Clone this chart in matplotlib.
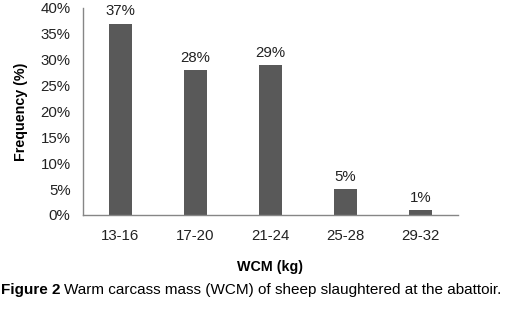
import matplotlib.pyplot as plt

plt.rcParams['font.family'] = ['Liberation Sans', 'DejaVu Sans']

categories = ['13-16', '17-20', '21-24', '25-28', '29-32']
frequency = [37, 28, 29, 5, 1]

fig = plt.figure(figsize=(5.05, 3.09), dpi=100)
ax = fig.add_axes([83 / 505, 1 - 215 / 309, 375 / 505, 207 / 309])

x = range(len(categories))
bars = ax.bar(x, frequency, width=0.31, color='#595959')
for xi, v in zip(x, frequency):
    ax.text(xi, v + 1.0, f'{v}%', ha='center', va='bottom', fontsize=10.8, color='#222222')

ax.set_xlim(-0.5, len(categories) - 0.5)
ax.set_ylim(0, 40)
ax.set_yticks(range(0, 41, 5))
ax.set_yticklabels([f'{t}%' for t in range(0, 41, 5)])
ax.set_xticks(list(x))
ax.set_xticklabels(categories)
ax.tick_params(axis='both', length=0, labelsize=10.8, colors='#222222')
ax.tick_params(axis='y', pad=9)
ax.tick_params(axis='x', pad=10)

for s in ['top', 'right']:
    ax.spines[s].set_visible(False)
for s in ['left', 'bottom']:
    ax.spines[s].set_color('#868686')
    ax.spines[s].set_linewidth(1)

ax.set_ylabel('Frequency (%)', fontsize=10.3, fontweight='bold', labelpad=9)
fig.text(270 / 505, 1 - 267 / 309, 'WCM (kg)', ha='center', va='center',
         fontsize=10.3, fontweight='bold')

# caption: bold prefix, then plain text right after it
fig.canvas.draw()
t1 = fig.text(1 / 505, 1 - 290 / 309, 'Figure 2', ha='left', va='center',
              fontsize=11, fontweight='bold')
bb = t1.get_window_extent(renderer=fig.canvas.get_renderer())
fig.text((bb.x1 + 3) / 505, 1 - 290 / 309,
         'Warm carcass mass (WCM) of sheep slaughtered at the abattoir.',
         ha='left', va='center', fontsize=11)

fig.savefig('out.png', dpi=100)
